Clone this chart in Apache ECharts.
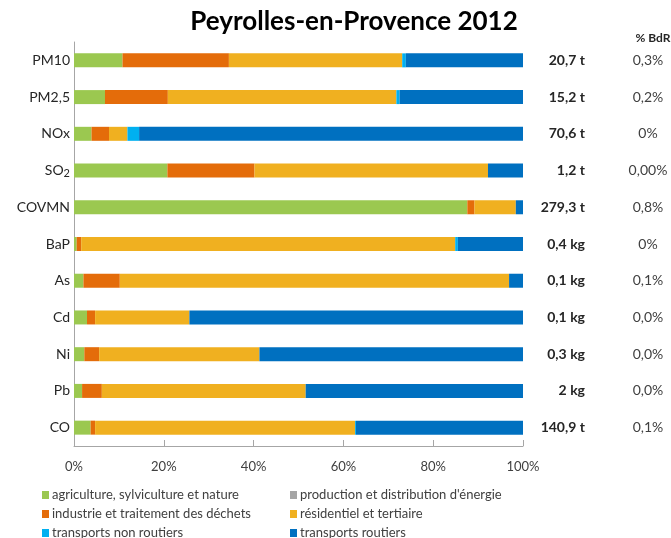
<!DOCTYPE html>
<html>
<head>
<meta charset="utf-8">
<script src="https://cdn.jsdelivr.net/npm/echarts@6/dist/echarts.min.js"></script>
<style>
  html, body { margin: 0; padding: 0; background: #fff; }
  #chart { width: 671px; height: 538px; }
</style>
</head>
<body>
<div id="chart"></div>
<script>
// polluants (du haut vers le bas)
const polluants = ['PM10', 'PM2,5', 'NOx', 'SO2', 'COVMN', 'BaP', 'As', 'Cd', 'Ni', 'Pb', 'CO']
const totaux = ['20,7 t', '15,2 t', '70,6 t', '1,2 t', '279,3 t', '0,4 kg', '0,1 kg', '0,1 kg', '0,3 kg', '2 kg', '140,9 t']
const partBdR = ['0,3%', '0,2%', '0%', '0,00%', '0,8%', '0%', '0,1%', '0,0%', '0,0%', '0,0%', '0,1%']
const ticksX = [0, 20, 40, 60, 80, 100]

// parts par secteur (%)
const agriculture = [10.8, 6.9, 3.9, 20.8, 87.6, 0.6, 2.1, 2.9, 2.3, 1.8, 3.7]
const energie = [0, 0, 0, 0, 0, 0, 0, 0, 0, 0, 0]
const industrie = [23.7, 14.0, 3.9, 19.4, 1.6, 1.0, 8.1, 1.8, 3.3, 4.4, 1.0]
const residentiel = [38.6, 50.9, 4.1, 52.0, 9.2, 83.3, 86.7, 21.0, 35.7, 45.4, 57.9]
const nonRoutiers = [0.8, 0.7, 2.6, 0, 0, 0.6, 0, 0, 0, 0, 0.2]
const routiers = [26.1, 27.5, 85.5, 7.8, 1.6, 14.5, 3.1, 74.3, 58.7, 48.4, 37.2]

const secteurs = [
  { name: 'agriculture, sylviculture et nature', data: agriculture, color: '#9bc850' },
  { name: "production et distribution d'énergie", data: energie, color: '#a5a5a5' },
  { name: 'industrie et traitement des déchets', data: industrie, color: '#e46c0a' },
  { name: 'résidentiel et tertiaire', data: residentiel, color: '#f0b020' },
  { name: 'transports non routiers', data: nonRoutiers, color: '#00b0f0' },
  { name: 'transports routiers', data: routiers, color: '#0070c0' },
]

const font = 'Lato, "Open Sans", sans-serif'
const chart = echarts.init(document.getElementById('chart'))

const legendCommun = {
  orient: 'vertical',
  top: 483,
  height: 70,
  itemWidth: 7,
  itemHeight: 8,
  itemGap: 5,
  icon: 'rect',
  textStyle: { fontFamily: font, fontSize: 13, color: '#404040', lineHeight: 14, padding: [0, 0, 0, -2] },
}

const option = {
  animation: false,
  textStyle: { fontFamily: font },
  title: [
    {
      text: 'Peyrolles-en-Provence 2012',
      left: 349, top: 4, textAlign: 'center',
      textStyle: { fontFamily: font, fontSize: 26, fontWeight: 'bold', color: '#000' },
    },
    {
      text: '% BdR',
      left: 648, top: 27, textAlign: 'center',
      textStyle: { fontFamily: font, fontSize: 12, fontWeight: 'bold', color: '#262626' },
    },
  ],
  legend: [
    Object.assign({}, legendCommun, {
      left: 37,
      data: [secteurs[0].name, secteurs[2].name, secteurs[4].name],
    }),
    Object.assign({}, legendCommun, {
      left: 285,
      data: [secteurs[1].name, secteurs[3].name, secteurs[5].name],
    }),
  ],
  grid: { left: 74, right: 148, top: 42, bottom: 92, containLabel: false },
  xAxis: {
    type: 'value',
    min: ticksX[0],
    max: ticksX[ticksX.length - 1],
    interval: 20,
    axisLine: { show: true, lineStyle: { color: '#a6a6a6' } },
    axisTick: { show: true, inside: true, length: 6, lineStyle: { color: '#a6a6a6' } },
    splitLine: { show: false },
    axisLabel: {
      formatter: '{value}%', fontSize: 13, color: '#404040', margin: 14,
      fontFamily: font,
    },
  },
  yAxis: [
    {
      type: 'category',
      data: polluants,
      inverse: true,
      axisLine: { show: true, lineStyle: { color: '#a6a6a6' } },
      axisTick: { show: false },
      axisLabel: {
        fontSize: 14, color: '#262626', margin: 4, fontFamily: font,
        formatter: v => (v === 'SO2' ? 'SO{s|2}' : v),
        rich: { s: { fontSize: 11, padding: [6, 0, 0, 0], color: '#262626', fontFamily: font } },
      },
    },
    {
      type: 'category',
      data: totaux,
      inverse: true,
      position: 'right',
      axisLine: { show: false },
      axisTick: { show: false },
      axisLabel: {
        align: 'right', margin: 62, fontSize: 14, fontWeight: 'bold',
        color: '#262626', fontFamily: font,
      },
    },
    {
      type: 'category',
      data: partBdR,
      inverse: true,
      position: 'right',
      axisLine: { show: false },
      axisTick: { show: false },
      axisLabel: {
        align: 'center', margin: 125, fontSize: 14,
        color: '#404040', fontFamily: font,
      },
    },
  ],
  series: secteurs.map(s => ({
    name: s.name,
    type: 'bar',
    stack: 'total',
    data: s.data,
    barWidth: 14,
    itemStyle: { color: s.color },
  })),
}

chart.setOption(option)
</script>
</body>
</html>
